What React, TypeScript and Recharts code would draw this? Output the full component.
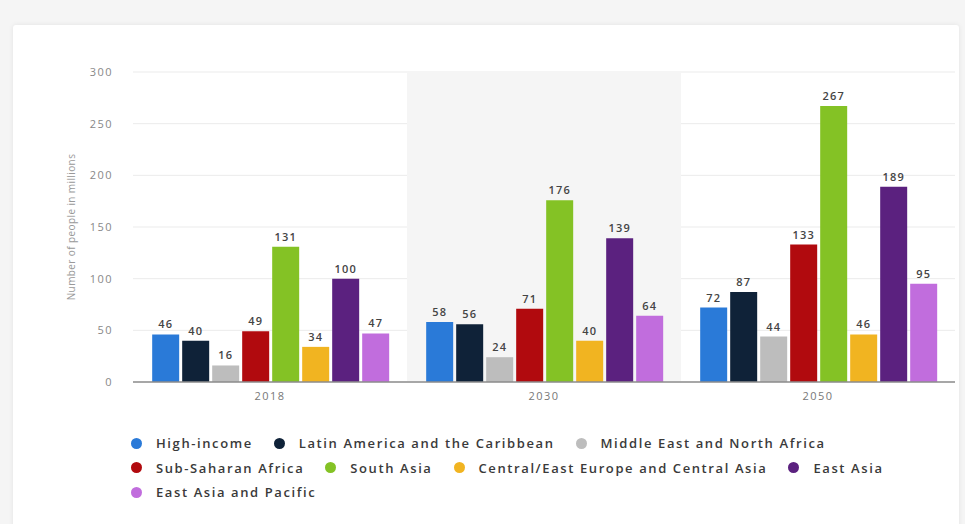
import React from 'react';
import { BarChart, Bar, XAxis, YAxis, CartesianGrid, LabelList, ReferenceArea } from 'recharts';

const YEARS = ['2018', '2030', '2050'];

const SERIES = [
    { key: 'High-income', color: '#2a7ad8' },
    { key: 'Latin America and the Caribbean', color: '#0f2238' },
    { key: 'Middle East and North Africa', color: '#bdbdbd' },
    { key: 'Sub-Saharan Africa', color: '#b10a0e' },
    { key: 'South Asia', color: '#84c225' },
    { key: 'Central/East Europe and Central Asia', color: '#f1b421' },
    { key: 'East Asia', color: '#5b217f' },
    { key: 'East Asia and Pacific', color: '#c16ddd' },
];

const HIGH_INCOME = [46, 58, 72];
const LATIN_AMERICA = [40, 56, 87];
const MIDDLE_EAST = [16, 24, 44];
const SUB_SAHARAN = [49, 71, 133];
const SOUTH_ASIA = [131, 176, 267];
const CENTRAL_EAST_EUROPE = [34, 40, 46];
const EAST_ASIA = [100, 139, 189];
const EAST_ASIA_PACIFIC = [47, 64, 95];

const VALUES = [HIGH_INCOME, LATIN_AMERICA, MIDDLE_EAST, SUB_SAHARAN, SOUTH_ASIA, CENTRAL_EAST_EUROPE, EAST_ASIA, EAST_ASIA_PACIFIC];

const Y_TICKS = [0, 50, 100, 150, 200, 250, 300];

const data = YEARS.map((year, i) => {
    const row: Record<string, string | number> = { year };
    SERIES.forEach((s, j) => {
        row[s.key] = VALUES[j][i];
    });
    return row;
});

// legend rows as laid out in the original
const LEGEND_ROWS = [
    [0, 1, 2],
    [3, 4, 5, 6],
    [7],
];

const App: React.FC = () => {
    return (
        <div style={{ position: 'absolute', left: 0, top: 0, width: 965, height: 524, background: '#f5f5f5', overflow: 'hidden' }}>
            <div style={{ position: 'absolute', left: 13, top: 25, width: 946, height: 520, background: '#ffffff', borderRadius: 3, boxShadow: '0 0 5px rgba(0,0,0,0.08)' }} />
            <div style={{ position: 'absolute', left: 0, top: 0 }}>
                <BarChart width={965} height={420} data={data} margin={{ top: 72, right: 10, left: 60, bottom: 0 }} barCategoryGap="7%" barGap={3}>
                    <ReferenceArea x1="2030" x2="2030" fill="#f5f5f5" fillOpacity={1} stroke="none" ifOverflow="visible" />
                    <CartesianGrid vertical={false} stroke="#ebebeb" />
                    <XAxis dataKey="year" height={38} tickLine={false} axisLine={{ stroke: '#8c8c8c', strokeWidth: 1.5 }} tick={{ fill: '#777', fontSize: 11, fontFamily: 'Open Sans', letterSpacing: 1.5 }} tickMargin={4} />
                    <YAxis
                        width={73}
                        domain={[0, 300]}
                        ticks={Y_TICKS}
                        tickLine={false}
                        axisLine={false}
                        tickMargin={14}
                        tick={{ fill: '#888', fontSize: 11, fontFamily: 'Open Sans', letterSpacing: 1.5 }}
                        label={{ value: 'Number of people in millions', angle: -90, position: 'insideLeft', offset: 11, style: { textAnchor: 'middle', fill: '#999', fontSize: 10, fontFamily: 'Open Sans', letterSpacing: 0.4 } }}
                    />
                    {SERIES.map((s) => (
                        <Bar key={s.key} dataKey={s.key} fill={s.color} isAnimationActive={false}>
                            <LabelList dataKey={s.key} position="top" offset={6} style={{ fill: '#444', fontSize: 11, fontWeight: 600, fontFamily: 'Open Sans', letterSpacing: 1.2 }} />
                        </Bar>
                    ))}
                </BarChart>
            </div>
            <div style={{ position: 'absolute', left: 131, top: 431, fontFamily: 'Open Sans', fontSize: 13, fontWeight: 600, letterSpacing: 1.6, color: '#3a3a3a' }}>
                {LEGEND_ROWS.map((row, r) => (
                    <div key={r} style={{ display: 'flex', height: 24.5, alignItems: 'center' }}>
                        {row.map((idx) => (
                            <div key={idx} style={{ display: 'flex', alignItems: 'center', marginRight: 21 }}>
                                <span style={{ width: 11, height: 11, borderRadius: '50%', background: SERIES[idx].color, display: 'inline-block', marginRight: 14 }} />
                                <span>{SERIES[idx].key}</span>
                            </div>
                        ))}
                    </div>
                ))}
            </div>
        </div>
    );
};

export default App;
